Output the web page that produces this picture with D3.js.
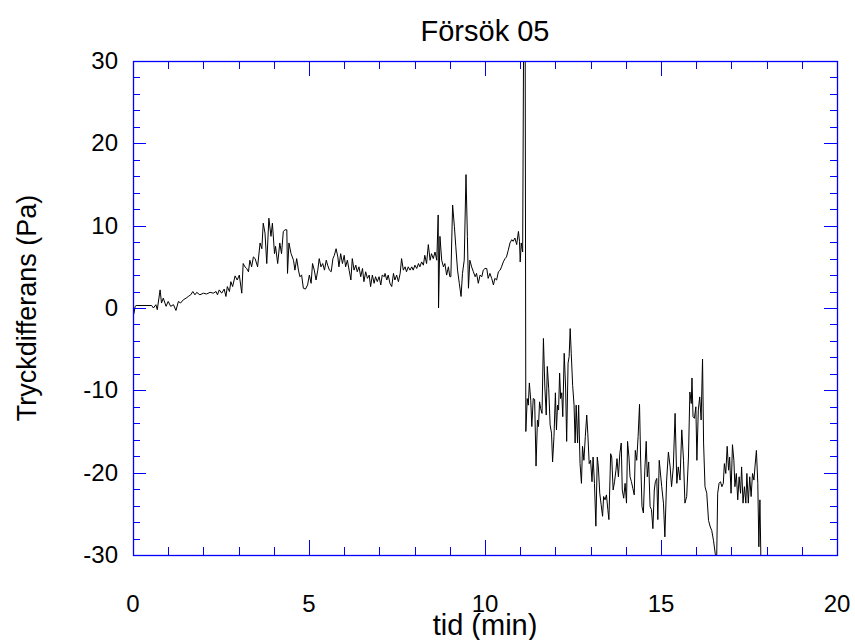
<!DOCTYPE html>
<html>
<head>
<meta charset="utf-8">
<script src="https://cdn.jsdelivr.net/npm/d3@7"></script>
<style>
  body { margin: 0; background: #fff; }
  text { font-family: "Liberation Sans", Arial, sans-serif; fill: #000; }
</style>
</head>
<body>
<div id="chart"></div>
<script>
// tid (min) och tryckdifferans (Pa)
var timeMin = [
  0.00,0.03,0.06,0.09,0.53,0.58,0.65,0.69,0.77,0.81,0.86,0.94,1.00,1.07,1.15,1.22,1.29,1.35,1.43,1.51,
  1.57,1.64,1.70,1.76,1.81,1.90,2.00,2.09,2.19,2.28,2.36,2.40,2.45,2.52,2.59,2.64,2.68,2.74,2.78,2.83,
  2.90,2.96,3.02,3.09,3.13,3.18,3.23,3.28,3.32,3.37,3.42,
  3.47,3.54,3.61,3.66,3.70,3.75,3.80,3.86,3.92,3.96,4.02,4.05,4.11,4.17,4.22,4.27,4.32,4.37,4.39,4.43,
  4.49,4.56,4.60,4.65,4.70,4.74,4.79,4.84,4.90,4.96,5.01,5.06,5.10,5.15,5.20,5.25,5.29,5.34,5.39,5.44,
  5.49,5.53,5.58,5.63,5.68,5.72,5.77,5.82,5.85,5.90,5.95,6.00,6.04,6.09,6.14,6.19,6.23,6.28,6.33,6.37,
  6.42,6.47,6.52,6.56,6.61,6.66,6.71,6.75,6.80,6.85,6.89,6.94,6.99,7.04,7.08,7.14,
  7.16,7.21,7.25,7.30,7.35,7.40,7.44,7.49,7.54,7.59,7.63,7.68,7.73,7.77,7.82,7.87,7.92,7.96,8.01,8.06,
  8.11,8.15,8.20,8.25,8.29,8.34,8.39,8.44,8.48,8.53,8.58,8.63,8.67,8.68,8.72,8.77,8.82,8.86,8.91,8.96,
  9.00,9.03,9.08,9.13,9.17,9.22,9.27,9.32,9.36,9.41,9.46,9.50,9.53,9.57,9.62,9.67,9.72,9.76,9.81,9.86,
  9.91,9.95,10.00,10.05,10.09,10.14,10.19,10.24,10.28,10.33,10.38,10.43,10.47,10.52,10.57,10.61,10.66,10.71,10.76,10.80,
  10.85,10.90,10.95,10.98,11.00,11.03,11.07,11.10,11.14,11.16,
  11.20,11.23,11.26,11.30,11.33,11.37,11.41,11.45,11.49,11.52,11.55,11.58,11.62,11.66,11.70,11.74,11.77,11.81,11.85,11.89,
  11.92,11.96,12.00,12.03,12.06,12.09,12.12,12.15,12.18,12.21,12.25,12.29,12.32,12.36,12.39,12.42,12.45,12.49,12.53,12.56,
  12.59,12.63,12.66,12.70,12.74,12.77,12.81,12.85,12.89,12.92,12.96,13.00,13.04,13.07,13.11,13.15,13.19,13.22,13.26,13.30,
  13.34,13.37,13.41,13.45,13.49,13.52,13.57,13.60,13.64,13.68,13.72,13.75,13.79,13.83,13.87,13.90,13.94,13.98,14.02,14.05,
  14.09,14.12,14.16,14.20,14.24,14.27,14.31,14.35,14.39,14.42,14.46,14.50,14.54,14.58,14.61,14.65,14.69,14.73,14.77,14.81,
  14.84,14.88,14.91,14.95,
  15.02,15.07,15.11,15.16,15.21,15.26,15.30,15.35,15.40,15.45,15.49,15.54,15.59,15.64,15.68,15.73,15.78,15.82,15.86,15.88,
  15.91,15.95,15.99,16.02,16.06,16.10,16.14,16.18,16.21,16.25,16.30,16.35,16.40,16.44,16.49,16.54,16.58,16.61,16.65,16.69,
  16.73,16.77,16.80,16.84,16.88,16.92,16.95,16.99,17.03,17.07,17.10,17.14,17.18,17.22,17.26,17.29,17.33,17.37,17.41,17.44,
  17.48,17.52,17.56,17.60,17.64,17.67,17.71,17.75,17.78,17.81,17.84
];

var pressurePa = [
  -1.0,-0.6,0.2,0.3,0.3,0.0,0.4,-0.2,2.2,0.6,1.2,0.2,0.8,0.2,0.4,-0.3,0.8,0.6,1.0,1.2,
  1.4,1.6,2.0,1.6,1.9,1.6,1.8,1.7,1.9,1.8,2.0,1.6,2.2,1.8,2.3,1.4,2.6,2.0,3.2,2.6,
  3.9,3.4,4.0,1.8,5.4,5.0,4.8,4.4,5.8,5.0,6.2,
  6.0,5.0,7.9,7.2,10.3,9.1,5.4,10.9,8.7,10.3,6.6,7.5,5.4,7.9,6.6,9.3,9.5,9.5,4.2,7.9,
  6.6,5.8,4.6,6.0,4.6,3.8,4.0,2.4,2.3,2.8,4.0,3.0,5.4,4.6,3.4,4.6,6.0,5.0,5.4,4.6,
  5.8,5.2,4.6,4.4,6.0,6.4,7.2,6.2,5.0,6.6,5.4,6.4,5.0,5.8,4.6,3.4,6.0,4.6,5.2,4.4,
  5.0,3.8,4.8,3.2,4.4,3.6,4.0,2.6,4.0,3.0,3.8,3.2,3.8,2.8,4.0,3.8,
  4.2,3.4,4.0,3.0,2.6,4.2,3.4,4.0,3.2,4.2,6.0,4.6,5.0,4.4,5.0,4.6,5.0,4.6,5.2,4.8,
  5.4,5.0,5.6,5.2,6.4,5.4,7.7,5.8,6.6,6.0,6.8,5.8,11.3,0.0,8.7,5.8,5.0,5.4,4.0,5.0,
  3.8,3.8,12.5,9.9,7.5,4.6,3.0,1.4,4.2,5.8,16.2,8.7,2.4,5.8,5.0,4.4,3.8,4.2,3.0,4.0,
  3.8,4.6,4.8,4.8,3.6,4.2,3.6,2.8,3.6,3.4,4.4,4.6,5.0,5.6,6.0,6.2,7.0,7.9,8.3,8.1,
  8.5,7.7,9.3,8.1,5.6,7.9,6.8,36,36,-15.0,
  -11.0,-11.8,-9.1,-11.2,-14.4,-11.0,-11.1,-19.2,-13.6,-14.4,-11.4,-12.2,-12.8,-3.7,-9.6,-13.0,-7.1,-9.8,-14.2,-15.2,
  -18.7,-15.6,-10.3,-14.8,-11.8,-12.4,-7.9,-11.0,-10.3,-13.2,-5.5,-9.6,-16.2,-6.7,-5.9,-2.5,-5.5,-9.4,-11.8,-16.4,
  -11.8,-16.4,-11.8,-18.9,-21.3,-16.8,-18.5,-15.6,-13.0,-15.2,-18.9,-18.5,-21.1,-18.1,-21.3,-26.5,-18.1,-19.3,-22.5,-23.9,
  -25.3,-22.9,-23.3,-22.7,-24.5,-25.7,-17.7,-18.1,-22.1,-21.1,-19.7,-18.3,-20.5,-17.7,-16.4,-22.1,-23.1,-21.3,-23.7,-16.2,
  -18.1,-20.5,-21.1,-21.9,-22.7,-17.3,-18.5,-15.6,-11.7,-18.1,-24.1,-24.9,-19.7,-16.2,-20.5,-18.7,-24.1,-24.5,-26.8,-22.1,
  -21.1,-20.7,-25.7,-18.5,
  -21.7,-23.7,-27.8,-20.9,-17.5,-19.3,-21.7,-19.3,-12.8,-21.3,-19.3,-20.9,-14.8,-18.5,-23.7,-22.9,-18.1,-10.2,-11.6,-8.5,
  -13.2,-13.4,-12.0,-18.5,-12.4,-10.8,-13.6,-6.2,-16.4,-21.7,-22.5,-25.8,-26.6,-27.0,-28.2,-29.8,-31,-22.5,-21.3,-21.1,
  -21.7,-21.3,-18.9,-20.1,-16.8,-19.7,-18.1,-22.5,-16.6,-18.5,-21.7,-20.1,-23.3,-20.5,-22.5,-19.3,-23.7,-21.7,-23.7,-20.1,
  -23.7,-20.5,-22.9,-20.1,-20.9,-19.3,-17.3,-21.3,-29.0,-23.3,-31
];

var xTickValues = [0, 5, 10, 15, 20];
var xTickLabels = ["0", "5", "10", "15", "20"];
var yTickValues = [-30, -20, -10, 0, 10, 20, 30];
var yTickLabels = ["-30", "-20", "-10", "0", "10", "20", "30"];

var chartTitle = "Försök 05";
var xTitle = "tid (min)";
var yTitle = "Tryckdifferans (Pa)";

var w = 855, h = 640;
var padL = 133, padR = 837, padT = 61, padB = 555;
var axisColor = "#0000ff";

var svg = d3.select("#chart").append("svg")
    .attr("width", w)
    .attr("height", h);

var xScale = d3.scaleLinear().domain([0, 20]).range([padL, padR]);
var yScale = d3.scaleLinear().domain([-30, 30]).range([padB, padT]);

var data = timeMin.map(function (t, i) { return { t: t, v: pressurePa[i] }; });

svg.append("clipPath").attr("id", "plotClip")
  .append("rect")
    .attr("x", padL).attr("y", padT)
    .attr("width", padR - padL).attr("height", padB - padT);

var line = d3.line()
    .x(function (d) { return xScale(d.t); })
    .y(function (d) { return yScale(d.v); });

svg.append("path")
    .datum(data)
    .attr("clip-path", "url(#plotClip)")
    .attr("fill", "none")
    .attr("stroke", "#000")
    .attr("stroke-width", 1)
    .attr("stroke-linejoin", "round")
    .attr("d", line);

// frame
svg.append("rect")
    .attr("x", padL + 0.5).attr("y", padT + 0.5)
    .attr("width", padR - padL).attr("height", padB - padT)
    .attr("fill", "none")
    .attr("stroke", axisColor)
    .attr("stroke-width", 1.3);

// ticks pointing inward on all four sides
var xTicks = d3.range(1, 20).map(function (v) { return { v: v, len: v % 5 === 0 ? 15 : 8 }; });
var yTicks = d3.range(-28, 30, 2).map(function (v) { return { v: v, len: v % 10 === 0 ? 13 : 7 }; });

var tg = svg.append("g")
    .attr("stroke", axisColor)
    .attr("stroke-width", 1)
    .attr("shape-rendering", "crispEdges");

[padB, padT].forEach(function (y0, k) {
  var dir = k === 0 ? -1 : 1;
  tg.selectAll(null).data(xTicks).enter().append("line")
      .attr("x1", function (d) { return Math.round(xScale(d.v)) + 0.5; })
      .attr("x2", function (d) { return Math.round(xScale(d.v)) + 0.5; })
      .attr("y1", y0)
      .attr("y2", function (d) { return y0 + dir * d.len; });
});

[padL, padR].forEach(function (x0, k) {
  var dir = k === 0 ? 1 : -1;
  tg.selectAll(null).data(yTicks).enter().append("line")
      .attr("y1", function (d) { return Math.round(yScale(d.v)) + 0.5; })
      .attr("y2", function (d) { return Math.round(yScale(d.v)) + 0.5; })
      .attr("x1", x0)
      .attr("x2", function (d) { return x0 + dir * d.len; });
});

// tick labels
svg.append("g").selectAll("text")
  .data(xTickValues)
  .enter().append("text")
    .attr("x", function (d) { return xScale(d); })
    .attr("y", 612)
    .attr("text-anchor", "middle")
    .style("font-size", "24px")
    .text(function (d, i) { return xTickLabels[i]; });

svg.append("g").selectAll("text")
  .data(yTickValues)
  .enter().append("text")
    .attr("x", padL - 15)
    .attr("y", function (d) { return yScale(d) + 8; })
    .attr("text-anchor", "end")
    .style("font-size", "24px")
    .text(function (d, i) { return yTickLabels[i]; });

svg.append("text")
    .attr("x", (padL + padR) / 2)
    .attr("y", 41)
    .attr("text-anchor", "middle")
    .style("font-size", "29px")
    .text(chartTitle);

svg.append("text")
    .attr("x", (padL + padR) / 2)
    .attr("y", 635)
    .attr("text-anchor", "middle")
    .style("font-size", "29px")
    .text(xTitle);

svg.append("text")
    .attr("transform", "translate(36," + ((padT + padB) / 2) + ") rotate(-90)")
    .attr("text-anchor", "middle")
    .style("font-size", "27px")
    .text(yTitle);
</script>
</body>
</html>
